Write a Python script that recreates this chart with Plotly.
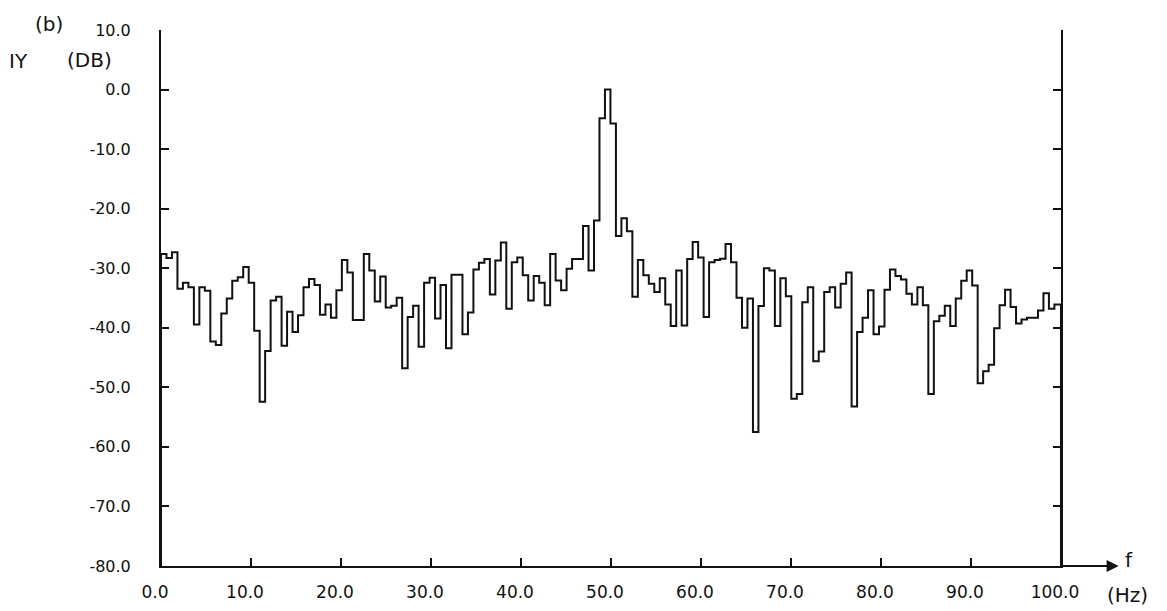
import numpy as np
import plotly.graph_objects as go

# Frequency resolution of the spectrum (Hz per bin)
df_hz = 0.609

# Spectrum level per frequency bin, IY in dB
level_db = [
    -27.6, -28.3, -27.3, -33.45, -32.45, -33.2, -39.45, -33.2, -33.8, -42.3,
    -42.9, -37.6, -35.1, -32.1, -31.5, -29.8, -32.45, -40.5, -52.4, -43.9,
    -35.4, -34.8, -43.0, -37.3, -40.7, -37.9, -33.2, -31.8, -32.8, -37.8,
    -36.1, -38.3, -33.7, -28.6, -30.7, -38.7, -38.7, -27.6, -30.4, -35.6,
    -31.4, -36.6, -36.3, -34.95, -46.8, -38.2, -36.3, -43.2, -32.45, -31.6,
    -38.45, -32.8, -43.45, -31.1, -31.1, -41.1, -37.45, -30.2, -29.1, -28.45,
    -34.4, -28.7, -25.7, -36.8, -29.0, -28.2, -31.2, -35.4, -31.3, -32.45,
    -36.2, -27.6, -32.05, -33.7, -30.1, -28.45, -28.45, -22.9, -30.4, -22.0,
    -4.8, 0.0, -5.7, -24.6, -21.6, -23.8, -34.8, -28.6, -31.2, -32.6,
    -34.0, -31.7, -36.1, -39.7, -30.4, -39.6, -28.45, -25.6, -28.2, -38.2,
    -29.0, -28.6, -28.4, -25.95, -29.0, -34.95, -40.0, -35.1, -57.5, -36.35,
    -30.0, -30.4, -39.7, -31.7, -34.7, -51.9, -51.1, -35.7, -33.2, -45.6,
    -44.0, -34.0, -33.2, -36.6, -32.6, -30.7, -53.2, -40.7, -38.3, -33.7,
    -41.1, -39.8, -33.6, -30.2, -31.3, -31.9, -34.3, -36.1, -33.2, -36.2,
    -51.1, -38.9, -38.0, -36.3, -39.7, -35.1, -32.1, -30.4, -32.9, -49.3,
    -47.3, -46.2, -40.1, -36.2, -33.6, -36.5, -39.3, -38.6, -38.3, -38.3,
    -37.1, -34.2, -36.8, -36.1,
]

x_ticks = [0, 10, 20, 30, 40, 50, 60, 70, 80, 90, 100]
x_tick_text = ["0.0", "10.0", "20.0", "30.0", "40.0", "50.0",
               "60.0", "70.0", "80.0", "90.0", "100.0"]
y_ticks = [10, 0, -10, -20, -30, -40, -50, -60, -70, -80]
y_tick_text = ["10.0", "0.0", "-10.0", "-20.0", "-30.0", "-40.0",
               "-50.0", "-60.0", "-70.0", "-80.0"]

f_min, f_max = 0.0, 100.0
db_min, db_max = -80.0, 10.0

# Step outline: rise from the floor at 0 Hz, one flat step per bin,
# drop back to the floor at 100 Hz.
levels = np.asarray(level_db, dtype=float)
bin_start = np.arange(len(levels)) * df_hz
xs = np.concatenate([[f_min], bin_start, [f_max, f_max]])
ys = np.concatenate([[db_min], levels, [levels[-1], db_min]])

FONT = "DejaVu Sans"
INK = "#111111"

fig = go.Figure()
fig.add_trace(go.Scatter(
    x=xs, y=ys, mode="lines",
    line=dict(color=INK, width=2, shape="hv"),
    cliponaxis=False, showlegend=False, hoverinfo="skip",
))

fig.update_layout(
    width=1167, height=611,
    margin=dict(l=161, r=106, t=30, b=45),
    paper_bgcolor="white", plot_bgcolor="white",
    font=dict(family=FONT, color=INK),
    xaxis=dict(
        range=[f_min, f_max], tickvals=x_ticks, ticktext=x_tick_text,
        showgrid=False, zeroline=False, automargin=False,
        showline=True, linecolor=INK, linewidth=2, mirror=False,
        ticks="inside", ticklen=8, tickwidth=2, tickcolor=INK,
        tickfont=dict(family=FONT, size=17, color=INK),
        ticklabelstandoff=10, ticklabelshift=-6,
    ),
    yaxis=dict(
        range=[db_min, db_max], tickvals=y_ticks, ticktext=y_tick_text,
        showgrid=False, zeroline=False, automargin=False,
        showline=True, linecolor=INK, linewidth=2, mirror="ticks",
        ticks="inside", ticklen=8, tickwidth=2, tickcolor=INK,
        tickfont=dict(family=FONT, size=16, color=INK),
        ticklabelstandoff=25,
    ),
)

label_font = dict(family=FONT, size=20, color=INK)
fig.add_annotation(text="(b)", xref="paper", yref="paper", x=-0.142, y=1.012,
                   xanchor="left", yanchor="middle", showarrow=False, font=label_font)
fig.add_annotation(text="IY", xref="paper", yref="paper", x=-0.171, y=0.942,
                   xanchor="left", yanchor="middle", showarrow=False, font=label_font)
fig.add_annotation(text="(DB)", xref="paper", yref="paper", x=-0.107, y=0.944,
                   xanchor="left", yanchor="middle", showarrow=False, font=label_font)
fig.add_annotation(text="f", xref="paper", yref="paper", x=1.069, y=0.012,
                   xanchor="left", yanchor="middle", showarrow=False, font=label_font)
fig.add_annotation(text="(Hz)", xref="paper", yref="paper", x=1.049, y=-0.054,
                   xanchor="left", yanchor="middle", showarrow=False, font=label_font)

# Frequency axis continues past 100 Hz into an arrow
fig.add_annotation(text="", xref="paper", yref="paper", x=1.064, y=0,
                   ax=-58, ay=0, showarrow=True, arrowhead=2, arrowsize=1.2,
                   arrowwidth=2, arrowcolor=INK)

fig.write_html("out.html")
